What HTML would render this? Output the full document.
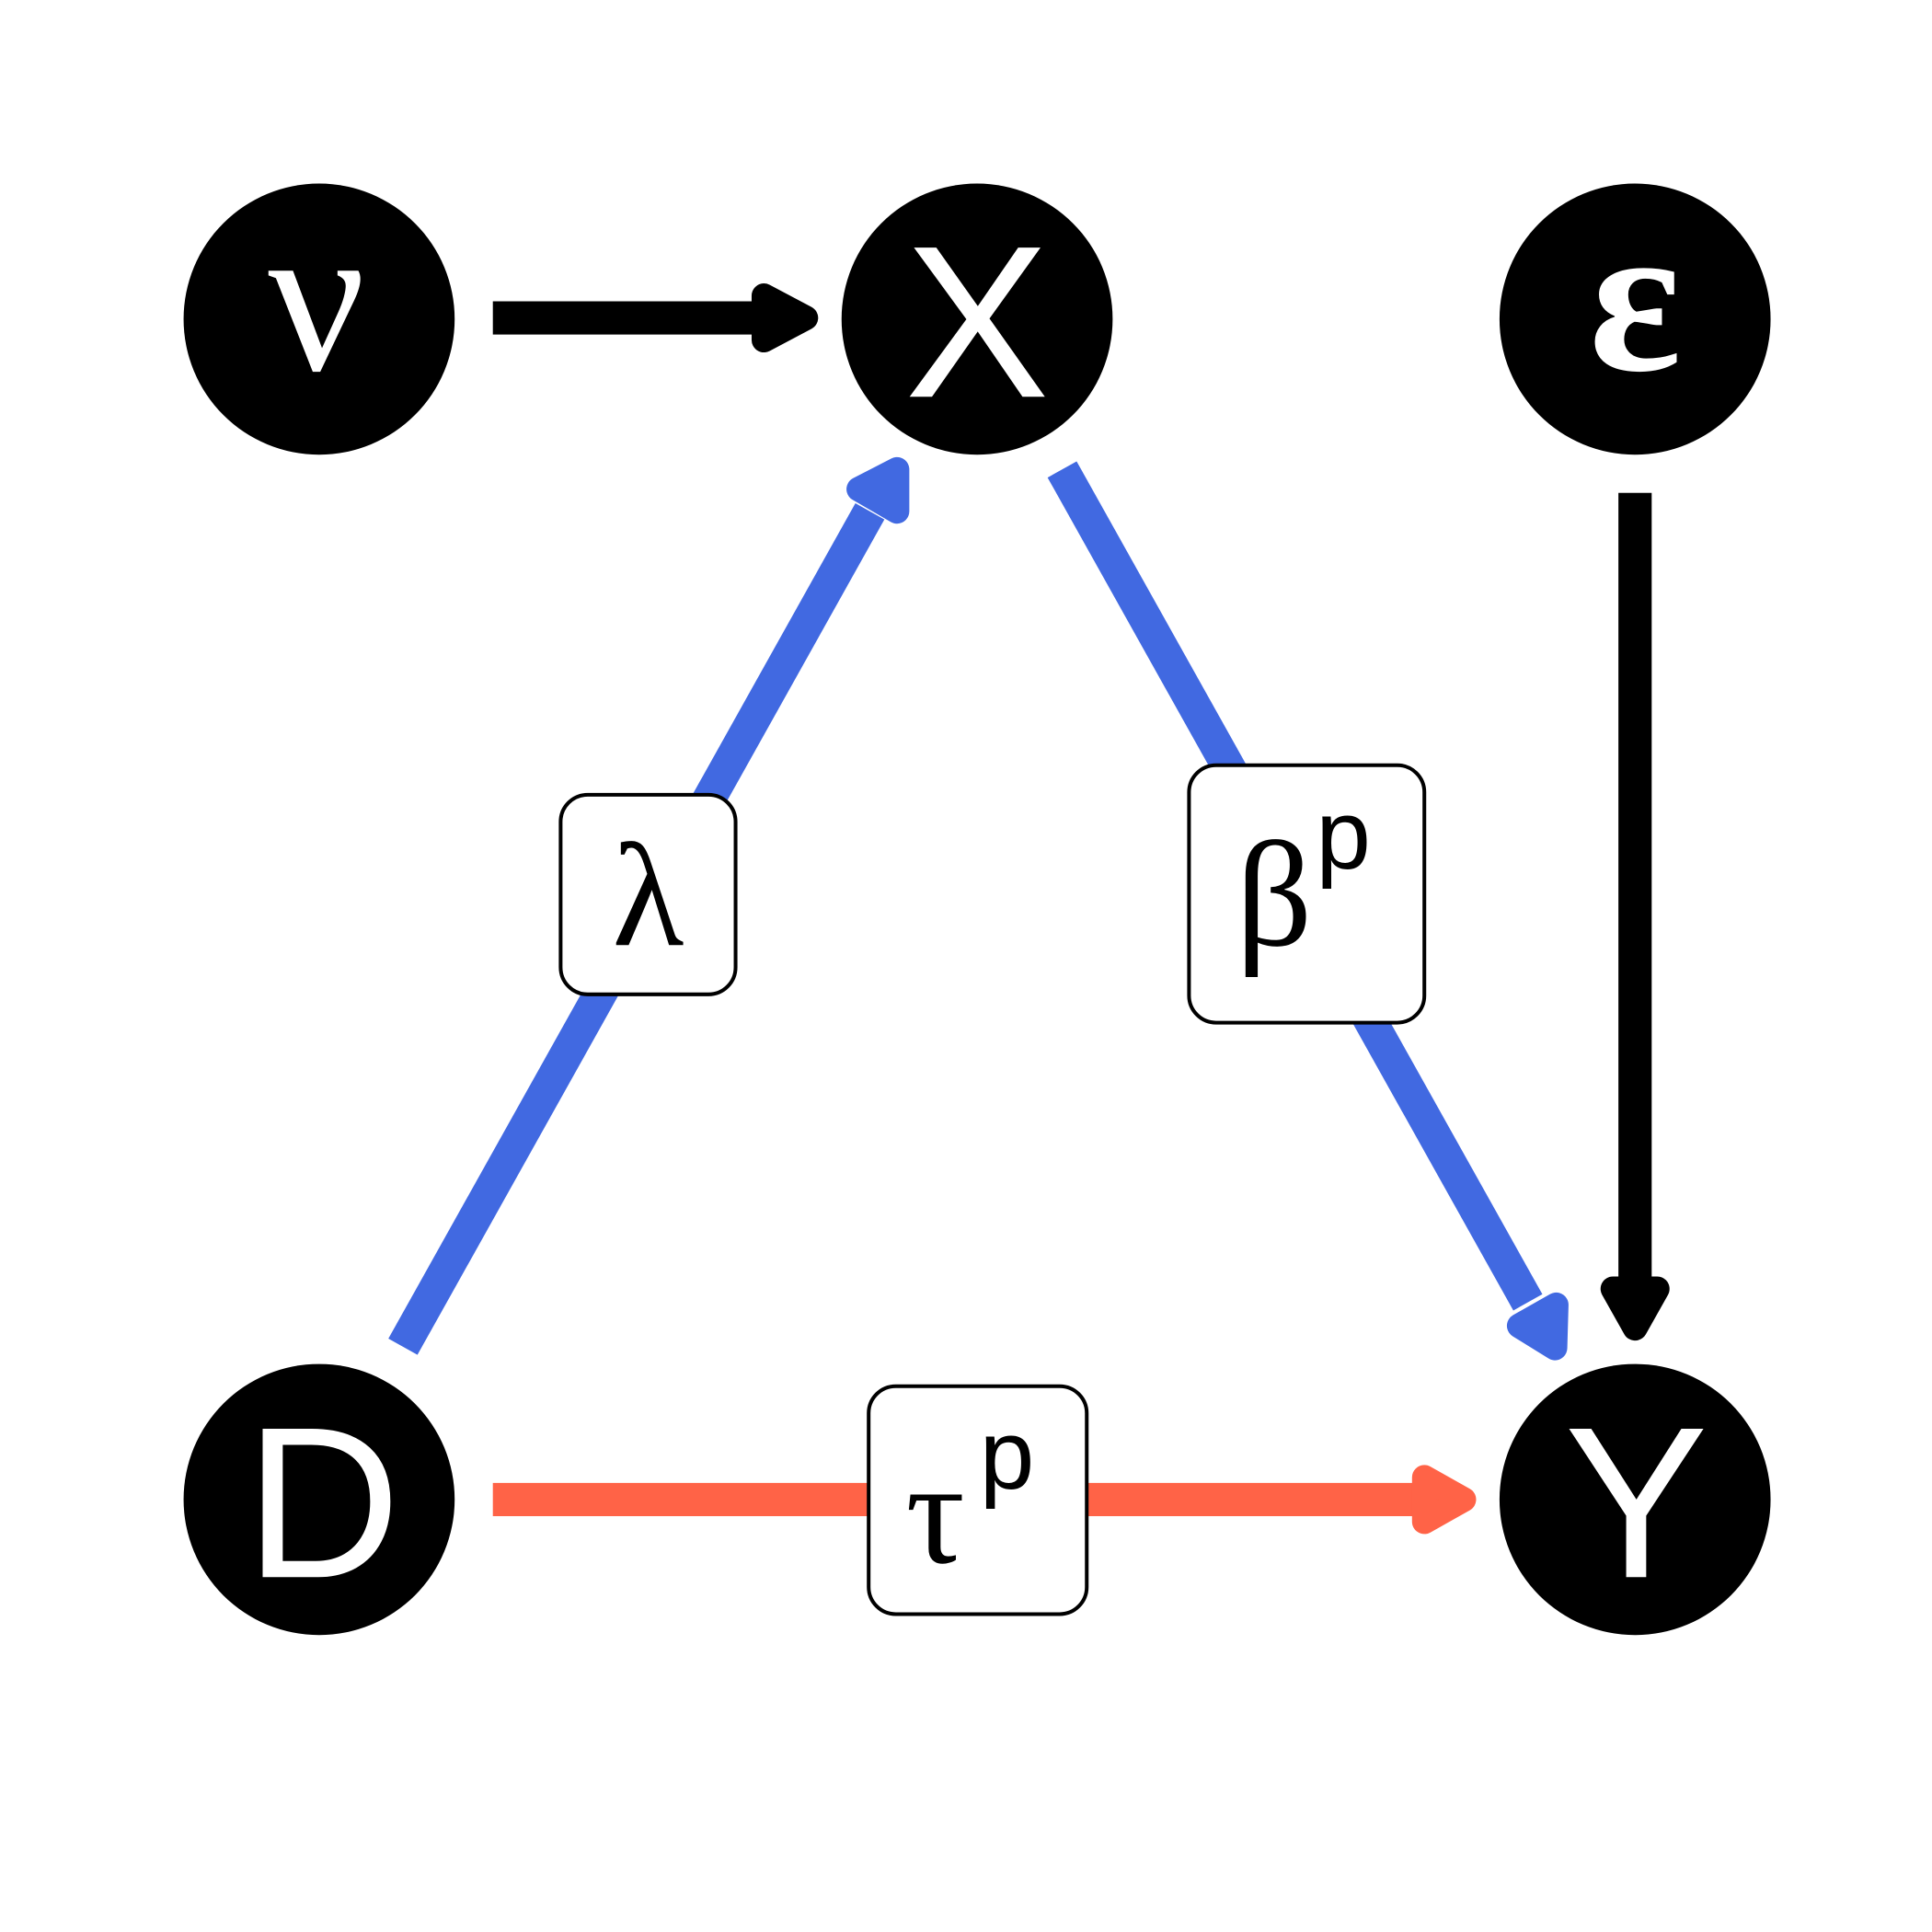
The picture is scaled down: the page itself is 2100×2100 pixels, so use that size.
<!DOCTYPE html>
<html><head><meta charset="utf-8"><style>html,body{margin:0;padding:0;background:#fff}svg{display:block}</style></head>
<body>
<svg width="2100" height="2100" viewBox="0 0 1568 1568" xmlns="http://www.w3.org/2000/svg">
<rect width="1568" height="1568" fill="#fff"/>
<line x1="400" y1="258" x2="618" y2="258" stroke="#000" stroke-width="27"/>
<polygon points="620,240 654,258 620,276" fill="#000" stroke="#000" stroke-width="20" stroke-linejoin="round"/>
<line x1="1327" y1="400" x2="1327" y2="1042" stroke="#000" stroke-width="27"/>
<polygon points="1309,1046 1345,1046 1327,1078" fill="#000" stroke="#000" stroke-width="20" stroke-linejoin="round"/>
<line x1="400" y1="1217" x2="1152" y2="1217" stroke="#FF6347" stroke-width="27"/>
<polygon points="1156,1199 1188,1217 1156,1235" fill="#FF6347" stroke="#FF6347" stroke-width="20" stroke-linejoin="round"/>
<line x1="327" y1="1093" x2="706" y2="415" stroke="#4169E1" stroke-width="27"/>
<polygon points="697,397 728,381 728,415" fill="#4169E1" stroke="#4169E1" stroke-width="20" stroke-linejoin="round"/>
<line x1="862" y1="381" x2="1240" y2="1057" stroke="#4169E1" stroke-width="27"/>
<polygon points="1233,1076 1263,1059 1262,1094" fill="#4169E1" stroke="#4169E1" stroke-width="20" stroke-linejoin="round"/>
<circle cx="259" cy="259" r="110" fill="#000"/>
<circle cx="793" cy="259" r="110" fill="#000"/>
<circle cx="1327" cy="259" r="110" fill="#000"/>
<circle cx="259" cy="1217" r="110" fill="#000"/>
<circle cx="1327" cy="1217" r="110" fill="#000"/>
<text x="257" y="300" font-family="Liberation Serif, serif" font-size="175" fill="#fff" text-anchor="middle">ν</text>
<text x="793" y="322" font-family="Liberation Sans, sans-serif" font-size="176" fill="#fff" text-anchor="middle">X</text>
<text x="1327" y="300" font-family="Liberation Serif, serif" font-weight="bold" font-size="175" fill="#fff" text-anchor="middle">ε</text>
<text x="262" y="1280" font-family="Liberation Sans, sans-serif" font-size="175" fill="#fff" text-anchor="middle">D</text>
<text x="1328" y="1280" font-family="Liberation Sans, sans-serif" font-size="175" fill="#fff" text-anchor="middle">Y</text>
<rect x="455" y="645" width="142" height="162" rx="22" fill="#fff" stroke="#000" stroke-width="3"/>
<text x="526" y="767" font-family="Liberation Serif, serif" font-size="120" fill="#000" text-anchor="middle">λ</text>
<rect x="965" y="621" width="191" height="209" rx="22" fill="#fff" stroke="#000" stroke-width="3"/>
<text x="1003" y="767" font-family="Liberation Serif, serif" font-size="122" fill="#000">β</text>
<text x="1068" y="705" font-family="Liberation Sans, sans-serif" font-size="80" fill="#000">p</text>
<rect x="705" y="1125" width="177" height="185" rx="22" fill="#fff" stroke="#000" stroke-width="3"/>
<text x="735" y="1268" font-family="Liberation Serif, serif" font-size="120" fill="#000">τ</text>
<text x="795" y="1208" font-family="Liberation Sans, sans-serif" font-size="80" fill="#000">p</text>
</svg>
</body></html>
